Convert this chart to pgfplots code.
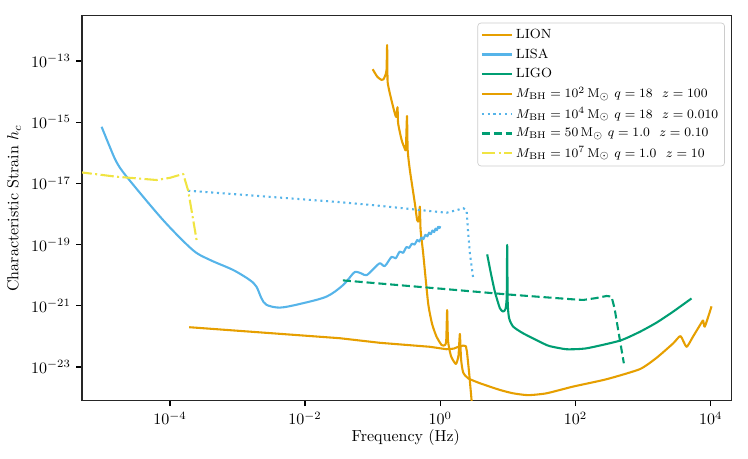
\documentclass[border=0pt]{standalone}
\usepackage{pgfplots}
\pgfplotsset{compat=1.18}
\definecolor{lion}{HTML}{E69F00}
\definecolor{lisa}{HTML}{56B4E9}
\definecolor{ligo}{HTML}{009E73}
\definecolor{yel}{HTML}{F0E442}
\begin{document}
\begin{tikzpicture}
\useasboundingbox (-51.25pt,-36.44pt) rectangle (416.25pt,250.4pt);
\begin{axis}[
  scale only axis, width=406pt, height=240.6pt,
  xmin=-5.30, xmax=4.31, ymin=-24.10, ymax=-11.52,
  xtick={-4,-2,0,2,4},
  xticklabels={$10^{-4}$,$10^{-2}$,$10^{0}$,$10^{2}$,$10^{4}$},
  ytick={-23,-21,-19,-17,-15,-13},
  yticklabels={$10^{-23}$,$10^{-21}$,$10^{-19}$,$10^{-17}$,$10^{-15}$,$10^{-13}$},
  tick align=outside, tick pos=left, major tick length=3.5pt,
  every tick/.style={black, line width=0.8pt},
  axis line style={black!85, line width=0.8pt},
  xlabel={Frequency (Hz)}, ylabel={Characteristic Strain $h_c$},
  every axis x label/.style={at={(axis description cs:0.4985,0)}, yshift=-23.3pt, anchor=center},
  every axis y label/.style={at={(axis description cs:0,0.5)}, xshift=-42.5pt, rotate=90, anchor=center},
  legend style={at={(1,1)}, anchor=north east, xshift=-4.2pt, yshift=-4.4pt,
    draw=black!20, rounded corners=2pt, fill=white,
    font=\fontsize{8.33}{10}\selectfont, inner sep=2pt, row sep=0.6pt},
  legend cell align=left,
  legend image code/.code={\draw[#1] (0pt,0pt) -- (18.6pt,0pt);},
  every axis plot/.append style={line width=1.3pt, line join=round},
]
% LION noise
\addplot[lion, smooth, tension=0.35] coordinates {
(-1.00,-13.27) (-0.93,-13.52) (-0.868,-13.62) (-0.84,-13.60) (-0.815,-13.48) (-0.795,-13.30)
(-0.786,-12.48) (-0.78,-13.62) (-0.766,-13.85) (-0.746,-14.06) (-0.686,-14.60) (-0.652,-14.83)
(-0.632,-14.51) (-0.623,-15.04) (-0.572,-15.58) (-0.53,-15.84) (-0.509,-15.88) (-0.492,-14.80)
(-0.482,-15.91) (-0.45,-16.56) (-0.376,-17.65) (-0.342,-18.20) (-0.315,-18.22) (-0.302,-17.76)
(-0.291,-18.52) (-0.253,-19.28) (-0.179,-20.92) (-0.12,-21.60) (-0.055,-22.01) (0.019,-22.28)
(0.065,-22.29) (0.088,-22.15) (0.102,-21.14) (0.115,-22.15) (0.16,-22.65) (0.231,-22.90)
(0.27,-22.62) (0.290,-21.92) (0.308,-22.75) (0.339,-23.18) (0.413,-23.37) (0.586,-23.53)
(0.882,-23.75) (1.078,-23.86) (1.300,-23.92) (1.572,-23.86) (1.966,-23.64) (2.460,-23.40)
(2.953,-23.07) (3.200,-22.70) (3.445,-22.23) (3.554,-21.99) (3.643,-22.34) (3.741,-22.00)
(3.865,-21.55) (3.889,-21.48) (3.914,-21.68) (4.013,-21.02)
};
\addlegendentry{LION}
% LISA noise
\addplot[lisa, smooth, tension=0.5] coordinates {
(-5.01,-15.15) (-4.89,-15.80) (-4.79,-16.30) (-4.64,-16.78) (-4.10,-18.20) (-3.66,-19.18)
(-3.408,-19.50) (-3.064,-19.83) (-2.817,-20.16) (-2.718,-20.38) (-2.644,-20.76) (-2.570,-20.97)
(-2.373,-21.06) (-2.077,-20.94) (-1.682,-20.70) (-1.436,-20.32) (-1.288,-19.94) (-1.238,-19.89)
(-1.16,-19.95) (-1.09,-20.00) (-0.98,-19.78) (-0.894,-19.61) (-0.82,-19.70) (-0.72,-19.40)
(-0.66,-19.45) (-0.60,-19.23) (-0.55,-19.27) (-0.50,-19.08) (-0.46,-19.11) (-0.42,-18.97)
(-0.38,-19.00) (-0.34,-18.85) (-0.31,-18.90) (-0.28,-18.77) (-0.25,-18.82) (-0.22,-18.68)
(-0.19,-18.73) (-0.165,-18.61) (-0.14,-18.66) (-0.115,-18.54) (-0.09,-18.59) (-0.07,-18.48)
(-0.05,-18.53) (-0.03,-18.42) (-0.01,-18.46) (0.0,-18.40)
};
\addlegendentry{LISA}
% LIGO noise
\addplot[ligo, smooth, tension=0.35] coordinates {
(0.694,-19.32) (0.75,-19.95) (0.808,-20.54) (0.882,-21.08) (0.930,-21.19) (0.966,-21.10)
(0.983,-20.70) (0.990,-19.01) (0.998,-20.90) (1.019,-21.41) (1.078,-21.68) (1.226,-21.90)
(1.522,-22.23) (1.621,-22.32) (1.868,-22.42) (2.164,-22.39) (2.657,-22.14) (2.953,-21.85)
(3.200,-21.55) (3.446,-21.19) (3.717,-20.76)
};
\addlegendentry{LIGO}
% source 1
\addplot[lion] coordinates {
(-3.714,-21.70) (-1.485,-22.06) (-0.893,-22.21) (-0.154,-22.34) (0.093,-22.42) (0.20,-22.40)
(0.265,-22.34) (0.339,-22.30) (0.379,-22.32) (0.395,-22.50) (0.428,-23.21) (0.463,-24.08) (0.48,-24.40)
};
\addlegendentry{$M_{\rm BH}=10^{2}\,{\rm M}_\odot\ q=18\ \ z=100$}
% source 2
\addplot[lisa, dash pattern=on 1.3pt off 2.3pt] coordinates {
(-3.729,-17.24) (-1.5,-17.61) (-1.0,-17.71) (0.093,-17.96) (0.25,-17.87) (0.339,-17.81)
(0.389,-17.87) (0.413,-18.63) (0.438,-19.28) (0.487,-20.10)
};
\addlegendentry{$M_{\rm BH}=10^{4}\,{\rm M}_\odot\ q=18\ \ z=0.010$}
% source 3
\addplot[ligo, dash pattern=on 5pt off 2.4pt] coordinates {
(-1.44,-20.17) (0.0,-20.44) (1.0,-20.63) (1.966,-20.79) (2.114,-20.81) (2.30,-20.75)
(2.460,-20.68) (2.534,-20.70) (2.58,-21.10) (2.632,-21.79) (2.716,-22.88)
};
\addlegendentry{$M_{\rm BH}=50\,{\rm M}_\odot\ q=1.0\ \ z=0.10$}
% source 4
\addplot[yel, dash pattern=on 8.3pt off 2.1pt on 1.3pt off 2.1pt] coordinates {
(-5.35,-16.63) (-4.80,-16.78) (-4.197,-16.89) (-4.0,-16.82) (-3.803,-16.69) (-3.729,-17.24)
(-3.630,-18.52) (-3.605,-18.85)
};
\addlegendentry{$M_{\rm BH}=10^{7}\,{\rm M}_\odot\ q=1.0\ \ z=10$}
\end{axis}
\end{tikzpicture}
\end{document}
